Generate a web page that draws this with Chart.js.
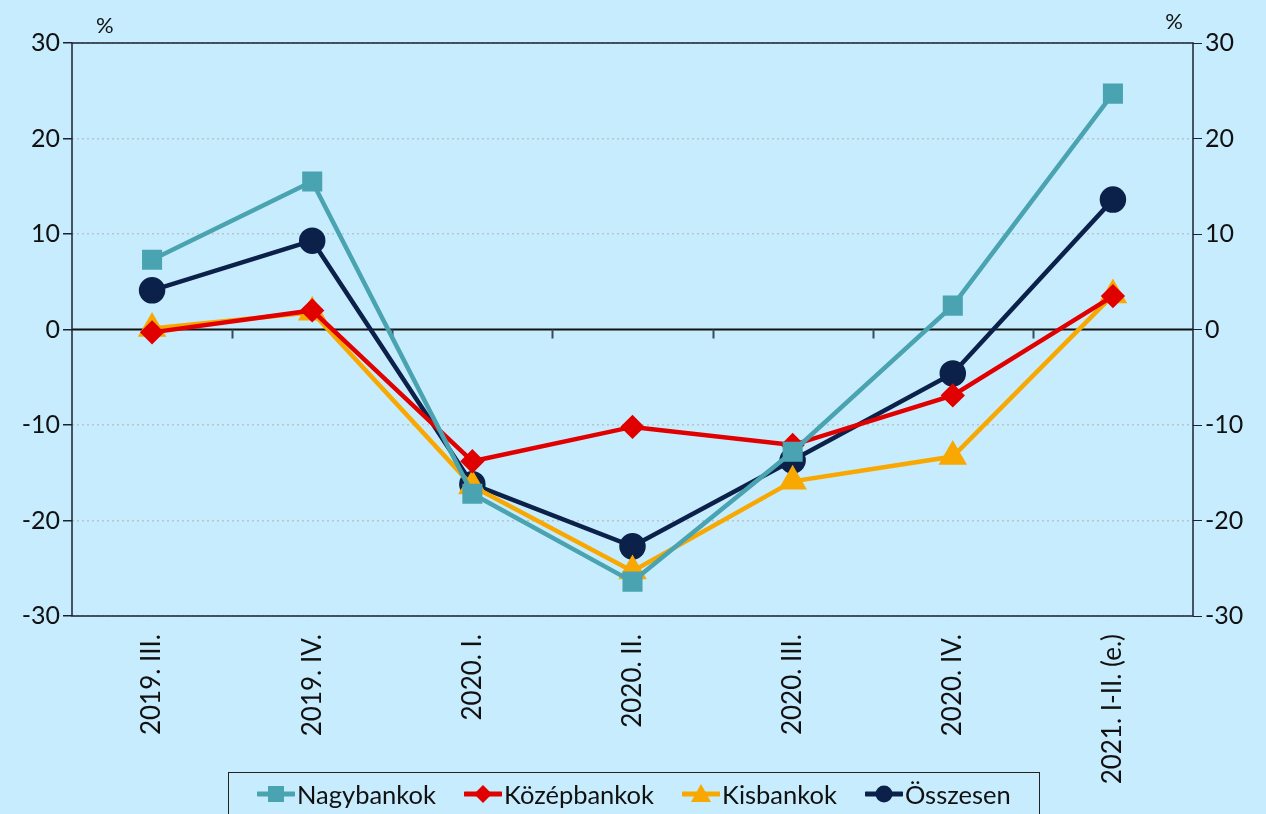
<!DOCTYPE html>
<html>
<head>
<meta charset="utf-8">
<script src="https://cdn.jsdelivr.net/npm/chart.js@4.4.1/dist/chart.umd.min.js"></script>
<style>
    html, body { margin: 0; padding: 0; background: #c7ecfd; }
    #wrap { position: relative; width: 1266px; height: 814px; overflow: hidden; }
    #legend {
        position: absolute; left: 228px; top: 772px; width: 812px; height: 50px;
        border: 1.5px solid #222; box-sizing: border-box;
        display: flex; align-items: flex-start; padding-top: 5px; padding-left: 28px;
        font-family: Lato, "Liberation Sans", sans-serif; font-size: 25.5px; line-height: 32px; color: #111;
    }
    .item { display: flex; align-items: center; margin-right: 28px; }
    .item svg { margin-right: 2px; }
</style>
</head>
<body>
<div id="wrap">
    <canvas id="chart" width="1266" height="814"></canvas>
    <div id="legend"></div>
</div>
<script>
    const categories = ['2019. III.', '2019. IV.', '2020. I.', '2020. II.', '2020. III.', '2020. IV.', '2021. I-II. (e.)'];
    const nagybankok = [7.3, 15.5, -17.2, -26.4, -12.8, 2.5, 24.7];
    const kozepbankok = [-0.3, 2.0, -13.8, -10.2, -12.1, -6.9, 3.5];
    const kisbankok = [0.1, 1.8, -16.4, -25.3, -15.9, -13.3, 3.6];
    const osszesen = [4.1, 9.3, -16.2, -22.7, -13.7, -4.6, 13.6];

    const FONT = 'Lato, "Liberation Sans", sans-serif';

    const SERIES = [
        { label: 'Nagybankok', data: nagybankok, color: '#4aa3b0', point: 'rect', radius: 11 },
        { label: 'Középbankok', data: kozepbankok, color: '#e00000', point: 'rectRot', radius: 9 },
        { label: 'Kisbankok', data: kisbankok, color: '#f8a800', point: 'triangle', radius: 12 },
        { label: 'Összesen', data: osszesen, color: '#0c214a', point: 'circle', radius: 11 }
    ];

    // frame, zero line, category ticks on the zero line, % labels
    const decor = {
        id: 'decor',
        beforeDatasetsDraw: function (chart) {
            const ctx = chart.ctx;
            const a = chart.chartArea;
            const x = chart.scales.x;
            const y0 = chart.scales.y.getPixelForValue(0);
            ctx.save();
            ctx.strokeStyle = '#111';
            ctx.lineWidth = 2;
            ctx.beginPath();
            ctx.moveTo(a.left, y0);
            ctx.lineTo(a.right, y0);
            ctx.stroke();
            ctx.strokeStyle = '#3a4a5a';
            for (let i = 0; i < categories.length - 1; i++) {
                const bx = Math.round((x.getPixelForValue(i) + x.getPixelForValue(i + 1)) / 2) + 0.5;
                ctx.beginPath();
                ctx.moveTo(bx, y0);
                ctx.lineTo(bx, y0 + 9);
                ctx.stroke();
            }
            ctx.strokeStyle = '#1a2233';
            ctx.lineWidth = 1.5;
            ctx.strokeRect(a.left, a.top, a.right - a.left, a.bottom - a.top);
            ctx.fillStyle = '#111';
            ctx.font = '22px ' + FONT;
            ctx.textBaseline = 'bottom';
            ctx.textAlign = 'left';
            ctx.fillText('%', a.left + 24, a.top - 6);
            ctx.textAlign = 'right';
            ctx.fillText('%', a.right - 10, a.top - 10);
            ctx.restore();
        }
    };

    const yTicks = { color: '#111', font: { family: FONT, size: 25 }, stepSize: 10, padding: 3 };
    const yGrid = {
        color: function (c) { return c.tick.value === 0 ? 'rgba(0,0,0,0)' : '#b9c4c9'; },
        lineWidth: 1.5,
        tickColor: '#1a2233',
        tickLength: 9
    };

    new Chart(document.getElementById('chart'), {
        type: 'line',
        data: {
            labels: categories,
            datasets: SERIES.map(function (s) {
                return {
                    label: s.label,
                    data: s.data,
                    borderColor: s.color,
                    backgroundColor: s.color,
                    borderWidth: 4.5,
                    pointStyle: s.point,
                    pointRadius: s.radius,
                    pointHoverRadius: s.radius,
                    tension: 0
                };
            })
        },
        options: {
            responsive: false,
            animation: false,
            layout: { padding: { top: 43 } },
            plugins: { legend: { display: false }, tooltip: { enabled: false } },
            scales: {
                x: {
                    offset: true,
                    grid: { display: false },
                    border: { display: false },
                    ticks: { color: '#111', font: { family: FONT, size: 26 }, minRotation: 90, maxRotation: 90, padding: 10, autoSkip: false },
                    afterFit: function (s) { s.height = 198; }
                },
                y: {
                    min: -30, max: 30,
                    ticks: yTicks,
                    grid: yGrid,
                    border: { display: false, dash: [2, 3] },
                    afterFit: function (s) { s.width = 72; }
                },
                y2: {
                    position: 'right',
                    min: -30, max: 30,
                    ticks: yTicks,
                    grid: { drawOnChartArea: false, tickColor: '#1a2233', tickLength: 9 },
                    border: { display: false },
                    afterFit: function (s) { s.width = 73; }
                }
            }
        },
        plugins: [decor]
    });

    // legend: line with marker, as in the source
    const markers = {
        rect: '<rect x="11" y="3" width="16" height="16"/>',
        rectRot: '<polygon points="19,2 28,11 19,20 10,11"/>',
        triangle: '<polygon points="19,1 29,19 9,19"/>',
        circle: '<circle cx="19" cy="11" r="8.5"/>'
    };
    const legend = document.getElementById('legend');
    SERIES.forEach(function (s) {
        const el = document.createElement('div');
        el.className = 'item';
        el.innerHTML = '<svg width="38" height="22" fill="' + s.color + '"><line x1="1" y1="11" x2="37" y2="11" stroke="' + s.color + '" stroke-width="5" stroke-linecap="round"/>' +
            markers[s.point] + '</svg><span>' + s.label + '</span>';
        legend.appendChild(el);
    });
</script>
</body>
</html>
